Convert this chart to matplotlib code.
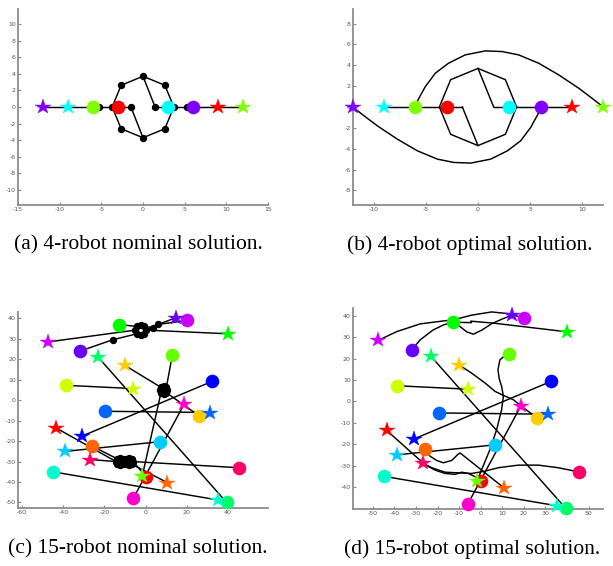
import numpy as np
import matplotlib.pyplot as plt

plt.rcParams['axes.unicode_minus'] = False

# ---- 4-robot case ----
colors4 = ['#ff0000', '#80ff00', '#00ffff', '#8000ff']
start4_x = [-3, -6, 3, 6]
start4_y = [0, 0, 0, 0]
goal4_x = [9, 12, -9, -12]
goal4_y = [0, 0, 0, 0]

oct_x = [3.7, 2.62, 0, -2.62, -3.7, -2.62, 0, 2.62, 3.7]
oct_y = [0, 2.62, 3.7, 2.62, 0, -2.62, -3.7, -2.62, 0]

# nominal (a)
nom4_lines = [([-12, -1.45], [0, 0]), ([1.45, 12], [0, 0]),
              ([-1.45, 0], [0, -3.7]), ([1.45, 0], [0, 3.7])]
nom4_dots_x = [-5.25, -1.45, 1.45, 5.25]
nom4_dots_y = [0, 0, 0, 0]

# optimal (b)
opt4_lines = [([-9, -1.5], [0, 0]), ([1.5, 9], [0, 0]),
              ([-1.5, 0], [0, -3.7]), ([1.5, 0], [0, 3.7])]
arc_up_x = [-6.0, -5.75, -5.05, -4.09, -2.82, -1.22, 0.7, 2.3, 3.89, 5.81, 7.73, 9.65, 10.93, 12.0]
arc_up_y = [0.0, 0.67, 1.95, 3.24, 4.2, 5.0, 5.38, 5.32, 5.0, 4.2, 3.08, 1.8, 0.83, 0.0]
arc_lo_x = [6.0, 5.75, 5.05, 4.09, 2.82, 1.22, -0.7, -2.3, -3.89, -5.81, -7.73, -9.65, -10.93, -12.0]
arc_lo_y = [0.0, -0.67, -1.95, -3.24, -4.2, -5.0, -5.38, -5.32, -5.0, -4.2, -3.08, -1.8, -0.83, 0.0]

# ---- 15-robot case ----
colors15 = ['#ff0000', '#ff6600', '#ffcc00', '#ccff00', '#66ff00', '#00ff00', '#00ff66', '#00ffcc',
            '#00ccff', '#0066ff', '#0000ff', '#6600ff', '#cc00ff', '#ff00cc', '#ff0066']
start15_x = [0.3, -26, 26, -38.7, 13, -13, 39.4, -45, 6.8, -19.5, 32.5, -32, 20, -6, 45.5]
start15_y = [-37.4, -22.4, -7.6, 7.3, 22, 37, -50, -35, -20.3, -5.4, 9.3, 24, 39, -48, -33]
goal15_x = [-43.6, 10.6, -10, -6, -1.6, 40, -23, 35.3, -39, 31.4, -31, 14.6, -47.5, 18.7, -26.8]
goal15_y = [-13.5, -40.3, 17, 5.7, -37, 32.5, 21, -48.8, -25, -6, -17.6, 40.3, 28.5, -2, -29]
straight15 = [3, 6, 7, 8, 9, 10, 13]

# roundabouts of the nominal solution (c)
ring_top_x = [0.2, -0.6, -2.4, -4.2, -5.0, -4.2, -2.4, -0.6, 0.2]
ring_top_y = [34.3, 36.1, 36.9, 36.1, 34.3, 32.5, 31.7, 32.5, 34.3]
ring_mid_x = [10.6, 10.1, 8.8, 7.5, 7.0, 7.5, 8.8, 10.1, 10.6]
ring_mid_y = [5.0, 6.3, 6.8, 6.3, 5.0, 3.7, 3.2, 3.7, 5.0]
ring_la_x = [-10.5, -11.1, -12.4, -13.7, -14.3, -13.7, -12.4, -11.1, -10.5]
ring_la_y = [-30, -28.7, -28.1, -28.7, -30, -31.3, -31.9, -31.3, -30]
ring_lb_x = [-6.1, -6.7, -8.0, -9.3, -9.9, -9.3, -8.0, -6.7, -6.1]
ring_lb_y = [-30, -28.7, -28.1, -28.7, -30, -31.3, -31.9, -31.3, -30]
extra_dots_x = [-15.9, 3.75, 6.2]
extra_dots_y = [29.6, 35.5, 37.1]

nom15_paths = [
    [(-43.6, -13.5), (-14.3, -30)], [(-6.1, -30), (0.3, -37.4)],          # red
    [(-26, -22.4), (-13.7, -28.7)], [(-6.7, -31.3), (10.6, -40.3)],       # orange
    [(-26.8, -29), (-14.3, -30)], [(-6.1, -30), (45.5, -33)],             # crimson
    [(-13, 37), (-4.2, 36.1)], [(0.2, 34.3), (40, 32.5)],                 # green
    [(-47.5, 28.5), (-5.0, 34.3)], [(-0.6, 36.1), (3.75, 35.5), (6.2, 37.1), (20, 39)],
    [(-32, 24), (-15.9, 29.6), (-4.2, 32.5)], [(0.2, 34.3), (6.2, 37.1), (14.6, 40.3)],
    [(13, 22), (10.1, 6.3)], [(7.5, 3.7), (-1.6, -37)],                   # lime
    [(-10, 17), (7.5, 6.3)], [(10.1, 3.7), (26, -7.6)],                   # gold
]

opt15_paths = [
    [(-47.5, 28.5), (-38.9, 32.6), (-28.1, 36.2), (-17.3, 37.6), (-13, 38.0), (-4.2, 40.3),
     (5.1, 41.8), (12.8, 41.0), (20, 39)],
    [(-32, 24), (-28, 28.8), (-22, 33.4), (-17.3, 35.7), (-13, 37), (-10.4, 35.6), (-6.5, 32.5),
     (-3.4, 31.4), (0.5, 33.3), (5.1, 36.3), (10, 38.5), (14.6, 40.3)],
    [(-13, 37), (-4.2, 36.8), (-4.6, 37.5), (6.6, 36.5), (40, 32.5)],
    [(13, 22), (10.5, 20.8), (8.9, 19.4), (8.0, 14.8), (8.6, 10.5), (9.7, 7.0), (10.5, 2.4),
     (9.7, -3.8), (7.4, -13.2), (4.3, -22.5), (0.6, -31.5), (-1.6, -37)],
    [(-10, 17), (-4.2, 13.2), (2.0, 8.6), (6.6, 4.7), (10.5, 2.8), (15.1, 0.8), (19.8, -3.0), (26, -7.6)],
    [(-26, -22.4), (-23.5, -25.6), (-20.4, -27.6), (-17.3, -28.7), (-13.4, -27.6), (-10.6, -24.8),
     (-9.6, -24.1), (-7.3, -25.9), (10.6, -40.3)],
    [(-43.6, -13.5), (-31.9, -24.1), (-25.8, -29.5), (-21.2, -32.1), (-16.5, -33.7), (-11.9, -34.1),
     (-8.8, -33.1), (-5.7, -33.7), (-2.6, -35.2), (0.3, -37.4)],
    [(-26.8, -29), (-22.7, -31), (-16.5, -33.1), (-10.4, -33.4), (-4.2, -33.7), (2.0, -32.6),
     (8.2, -31.0), (17.4, -29.8), (26.7, -29.8), (35.9, -31.0), (45.5, -33)],
]

captions = ['(a) 4-robot nominal solution.', '(b) 4-robot optimal solution.',
            '(c) 15-robot nominal solution.', '(d) 15-robot optimal solution.']

LW = 1.05
DOT = 4.3


def style(ax, xlim, ylim, xt, yt):
    ax.set_xlim(xlim)
    ax.set_ylim(ylim)
    ax.set_xticks(xt)
    ax.set_yticks(yt)
    for s in ['top', 'right']:
        ax.spines[s].set_visible(False)
    for s in ['left', 'bottom']:
        ax.spines[s].set_color('#8c8c8c')
        ax.spines[s].set_linewidth(1.3)
    ax.tick_params(direction='in', length=2.5, width=0.8, color='#8c8c8c',
                   labelsize=4.5, labelcolor='#555555', pad=1.5)


def robots(ax, sx, sy, gx, gy, cols, cs=9.8, ss=11.5):
    for i in range(len(cols)):
        ax.plot(sx[i], sy[i], 'o', color=cols[i], ms=cs, mew=0, zorder=4, clip_on=False)
    for i in range(len(cols)):
        ax.plot(gx[i], gy[i], '*', color=cols[i], ms=ss, mew=0.3, zorder=5, clip_on=False)


def poly(ax, pts):
    pts = np.array(pts)
    ax.plot(pts[:, 0], pts[:, 1], '-', color='k', lw=LW, zorder=1, solid_joinstyle='round')


fig = plt.figure(figsize=(6.13, 5.66), dpi=100)
W, H = 613.0, 566.0
axa = fig.add_axes([18 / W, 1 - 205 / H, 250 / W, 196 / H])
axb = fig.add_axes([352.7 / W, 1 - 205 / H, 250.6 / W, 196 / H])
axc = fig.add_axes([18 / W, 1 - 508 / H, 250 / W, 196.3 / H])
axd = fig.add_axes([352.7 / W, 1 - 509 / H, 250.6 / W, 200.7 / H])

# (a)
for lx, ly in nom4_lines:
    axa.plot(lx, ly, 'k-', lw=LW, zorder=1)
axa.plot(oct_x, oct_y, 'k-', lw=LW, zorder=1)
axa.plot(oct_x[:-1], oct_y[:-1], 'o', color='k', ms=DOT, zorder=2)
axa.plot(nom4_dots_x, nom4_dots_y, 'o', color='k', ms=DOT, zorder=2)
robots(axa, start4_x, start4_y, goal4_x, goal4_y, colors4)
style(axa, (-15, 15), (-11.8, 11.8), range(-15, 16, 5), range(-10, 11, 2))

# (b)
for lx, ly in opt4_lines:
    axb.plot(lx, ly, 'k-', lw=LW, zorder=1)
axb.plot(oct_x, oct_y, 'k-', lw=LW, zorder=1)
axb.plot(arc_up_x, arc_up_y, 'k-', lw=LW, zorder=1, solid_joinstyle='round')
axb.plot(arc_lo_x, arc_lo_y, 'k-', lw=LW, zorder=1, solid_joinstyle='round')
robots(axb, start4_x, start4_y, goal4_x, goal4_y, colors4)
style(axb, (-12, 12), (-9.4, 9.4), range(-10, 11, 5), range(-8, 9, 2))

# (c)
for i in straight15:
    axc.plot([start15_x[i], goal15_x[i]], [start15_y[i], goal15_y[i]], 'k-', lw=LW, zorder=1)
for p in nom15_paths:
    poly(axc, p)
for rx, ry in [(ring_top_x, ring_top_y), (ring_mid_x, ring_mid_y),
               (ring_la_x, ring_la_y), (ring_lb_x, ring_lb_y)]:
    axc.plot(rx, ry, 'k-', lw=LW, zorder=1)
    axc.plot(rx[:-1], ry[:-1], 'o', color='k', ms=DOT, zorder=2)
axc.plot(extra_dots_x, extra_dots_y, 'o', color='k', ms=DOT, zorder=2)
robots(axc, start15_x, start15_y, goal15_x, goal15_y, colors15)
style(axc, (-62, 59.5), (-52.7, 43.3), range(-60, 41, 20), range(-50, 41, 10))

# (d)
for i in straight15:
    axd.plot([start15_x[i], goal15_x[i]], [start15_y[i], goal15_y[i]], 'k-', lw=LW, zorder=1)
for p in opt15_paths:
    poly(axd, p)
robots(axd, start15_x, start15_y, goal15_x, goal15_y, colors15)
style(axd, (-59.3, 56.8), (-50.3, 43.5), range(-50, 51, 10), range(-40, 41, 10))

cap_pos = [(138, 245), (470, 245), (138, 549), (472, 549)]
for (cx, cy), t in zip(cap_pos, captions):
    fig.text(cx / W, 1 - cy / H, t, ha='center', va='center',
             family='Liberation Serif', fontsize=15.5)

fig.savefig('out.png', dpi=100)
